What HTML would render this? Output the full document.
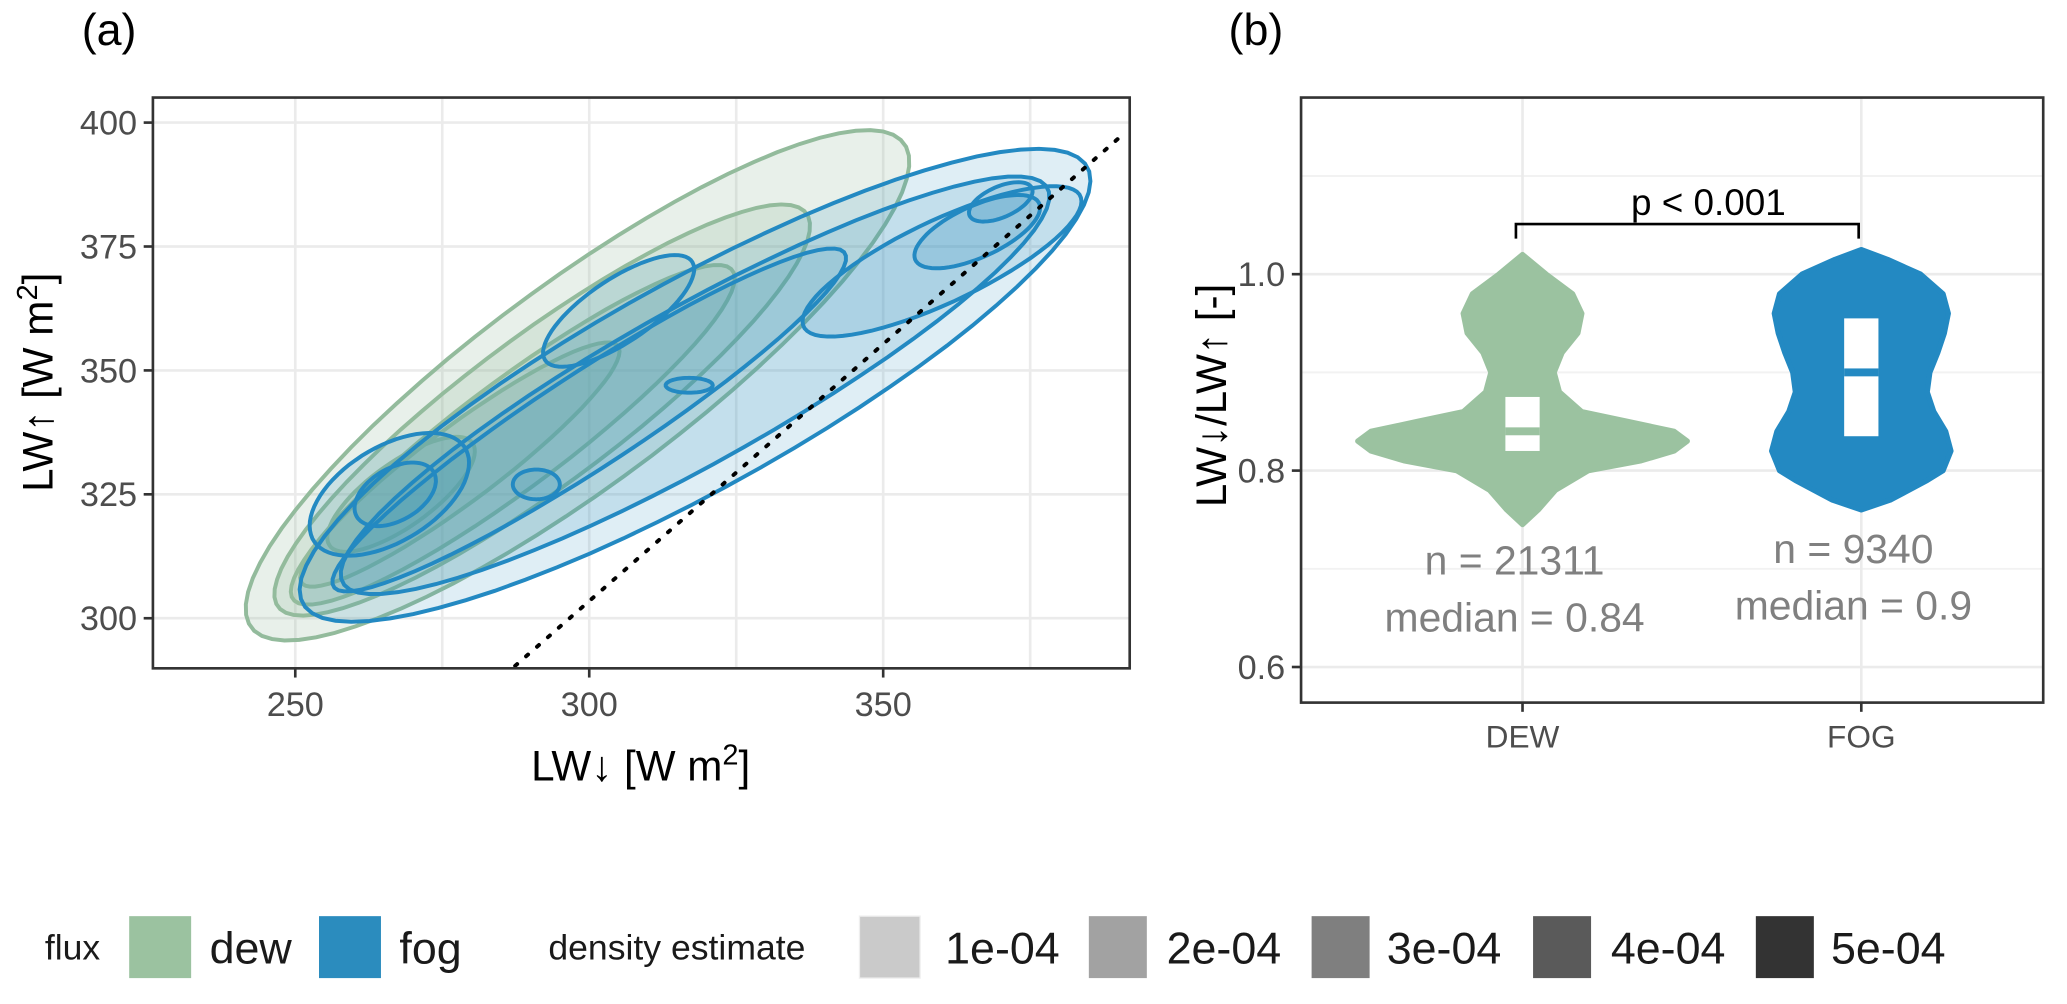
<!DOCTYPE html>
<html><head><meta charset="utf-8"><style>
body{margin:0;background:#fff;}
svg text{font-family:"Liberation Sans",sans-serif;}
</style></head><body>
<svg id="fig" width="2067" height="999" xmlns="http://www.w3.org/2000/svg">
<g transform="scale(1.3182)">
<text x="62" y="34" font-size="34" fill="#000">(a)</text>
<text x="932" y="34" font-size="34" fill="#000">(b)</text>
<g id="pa"></g>
<g id="pb"></g>
<g id="leg">
<text x="34" y="728" font-size="27" fill="#1a1a1a">flux</text>
<rect x="98" y="695" width="47" height="47" fill="#9bc2a0"/>
<text x="159" y="731" font-size="34" fill="#1a1a1a">dew</text>
<rect x="242" y="695" width="47" height="47" fill="#2b8cbe"/>
<text x="303" y="731" font-size="34" fill="#1a1a1a">fog</text>
<text x="416" y="728" font-size="27" fill="#1a1a1a">density estimate</text>
<rect x="652" y="695" width="46" height="47" fill="#cacaca" stroke="#eee"/><text x="717" y="731" font-size="34" fill="#1a1a1a">1e-04</text>
<rect x="826" y="695" width="44" height="47" fill="#a2a2a2"/><text x="885" y="731" font-size="34" fill="#1a1a1a">2e-04</text>
<rect x="995" y="695" width="44" height="47" fill="#7f7f7f"/><text x="1052" y="731" font-size="34" fill="#1a1a1a">3e-04</text>
<rect x="1163" y="695" width="44" height="47" fill="#5a5a5a"/><text x="1222" y="731" font-size="34" fill="#1a1a1a">4e-04</text>
<rect x="1332" y="695" width="44" height="47" fill="#333"/><text x="1389" y="731" font-size="34" fill="#1a1a1a">5e-04</text>
</g>
</g>
</svg>
<script>
// Panel (a) data: contour levels as ellipses [cx, cy, halfLength, halfWidth, angleDeg]
const dewLevels=[[298,347,74,19,42],[292,342,60,14,42],[287,337,50,10,42],[278,331,36,7,42],[268,325,16,6,42]];
const fogLevels=[[318,347,80,20,34],[318,347,72,15,34],[300,340,55,9,38],[360,372,27,8,30],[266,325,16,9,40],[305,362,16,6,40],[366,378,12,5,30],[267,325,8,5,40],[370,384,6,3,30],[291,327,4,3,0],[317,347,4,1.5,0]];
const xTicksA=[250,300,350];
const yTicksA=[300,325,350,375,400];
const refLine=[[287.4,290.4],[390,396.8]];
// Panel (b) data
const vY=[0.745,0.76,0.78,0.80,0.81,0.82,0.83,0.84,0.85,0.86,0.88,0.90,0.92,0.94,0.96,0.98,1.00,1.02];
const dewW=[0,12,25,50,90,115,125,115,80,45,28,24,30,42,45,38,18,0];
const fogY=[0.76,0.77,0.79,0.80,0.82,0.84,0.86,0.88,0.90,0.92,0.94,0.96,0.98,1.00,1.015,1.025];
const fogW=[0,22,50,62,68,64,55,50,52,58,63,66,62,45,20,0];
const cats=["DEW","FOG"];
const boxes=[[0.82,0.84,0.875],[0.835,0.90,0.955]];
const nLabels=["n = 21311","n = 9340"];
const medLabels=["median = 0.84","median = 0.9"];
const yTicksB=[0.6,0.8,1.0];
const NS="http://www.w3.org/2000/svg";
function mk(p,t,a){const e=document.createElementNS(NS,t);for(const k in a)e.setAttribute(k,a[k]);p.appendChild(e);return e;}
// Panel a
const pa=document.getElementById('pa');
const L=116,R=857,T=74,B=507;
const sx=v=>224+(v-250)*223/50, sy=v=>469-(v-300)*94/25;
for(const v of [275,300,325,350,375,250]){mk(pa,'line',{x1:sx(v),x2:sx(v),y1:T,y2:B,stroke:'#ebebeb','stroke-width':2});}
for(const v of yTicksA){mk(pa,'line',{x1:L,x2:R,y1:sy(v),y2:sy(v),stroke:'#ebebeb','stroke-width':2});}
function ell(c){const th=c[4]*Math.PI/180,ux=Math.cos(th),uy=Math.sin(th);let d='';for(let i=0;i<=72;i++){const t=i/72*2*Math.PI;const a=c[2]*Math.cos(t),b=c[3]*Math.sin(t);const x=c[0]+a*ux-b*uy,y=c[1]+a*uy+b*ux;d+=(i?'L':'M')+sx(x).toFixed(1)+','+sy(y).toFixed(1);}return d+'Z';}
const clip=mk(pa,'clipPath',{id:'cpa'});mk(clip,'rect',{x:L,y:T,width:R-L,height:B-T});
const cg=mk(pa,'g',{'clip-path':'url(#cpa)'});
for(const c of dewLevels){const e=mk(cg,'path',{d:ell(c),fill:'rgba(140,180,150,0.2)',stroke:'#93bb9c','stroke-width':3});

}
for(const c of fogLevels){const e=mk(cg,'path',{d:ell(c),fill:'rgba(43,140,190,0.15)',stroke:'#2389c2','stroke-width':3});

}
const rl=mk(cg,'line',{x1:sx(refLine[0][0]),y1:sy(refLine[0][1]),x2:sx(refLine[1][0]),y2:sy(refLine[1][1]),stroke:'#000','stroke-width':3,'stroke-dasharray':'2 9','stroke-linecap':'round'});


mk(pa,'rect',{x:L,y:T,width:R-L,height:B-T,fill:'none',stroke:'#333','stroke-width':2});
for(const v of xTicksA){mk(pa,'line',{x1:sx(v),x2:sx(v),y1:B,y2:B+7,stroke:'#333','stroke-width':2});const t=mk(pa,'text',{x:sx(v),y:B+36,'font-size':26,fill:'#4d4d4d','text-anchor':'middle'});t.textContent=v;}
for(const v of yTicksA){mk(pa,'line',{x1:L-7,x2:L,y1:sy(v),y2:sy(v),stroke:'#333','stroke-width':2});const t=mk(pa,'text',{x:L-12,y:sy(v)+9,'font-size':26,fill:'#4d4d4d','text-anchor':'end'});t.textContent=v;}
let xl=mk(pa,'text',{x:486,y:592,'font-size':32,fill:'#000','text-anchor':'middle'});xl.innerHTML='LW↓ [W m<tspan dy="-12" font-size="22">2</tspan><tspan dy="12">]</tspan>';

let yl=mk(pa,'text',{x:0,y:0,'font-size':32,fill:'#000','text-anchor':'middle',transform:'translate(40,290) rotate(-90)'});yl.innerHTML='LW↑ [W m<tspan dy="-12" font-size="22">2</tspan><tspan dy="12">]</tspan>';

// Panel b
const pb=document.getElementById('pb');
const L2=987,R2=1550,T2=74,B2=533;
const by=v=>357-(v-0.8)*149/0.2;
const cx=[1155,1412];
for(const v of [0.7,0.9,1.1]){mk(pb,'line',{x1:L2,x2:R2,y1:by(v),y2:by(v),stroke:'#f2f2f2','stroke-width':1.5});}
for(const v of yTicksB){mk(pb,'line',{x1:L2,x2:R2,y1:by(v),y2:by(v),stroke:'#ebebeb','stroke-width':2});}
for(const x of cx){mk(pb,'line',{x1:x,x2:x,y1:T2,y2:B2,stroke:'#ebebeb','stroke-width':2});}
function violin(ys,ws,c,col,name){let d='';ys.forEach((y,i)=>{d+=(i?'L':'M')+(c+ws[i])+','+by(y);});for(let i=ys.length-1;i>=0;i--)d+='L'+(c-ws[i])+','+by(ys[i]);const e=mk(pb,'path',{d:d+'Z',fill:col,stroke:col,'stroke-width':4,'stroke-linejoin':'round'});

}
violin(vY,dewW,cx[0],'#9bc2a0','violin-dew');
violin(fogY,fogW,cx[1],'#2389c2','violin-fog');
boxes.forEach((b,i)=>{const col=i?'#2389c2':'#9bc2a0';const r=mk(pb,'rect',{x:cx[i]-13,y:by(b[2]),width:26,height:by(b[0])-by(b[2]),fill:'#fff'});


mk(pb,'rect',{x:cx[i]-13,y:by(b[1])-3,width:26,height:6,fill:col});});
mk(pb,'rect',{x:L2,y:T2,width:R2-L2,height:B2-T2,fill:'none',stroke:'#333','stroke-width':2});
cats.forEach((c,i)=>{mk(pb,'line',{x1:cx[i],x2:cx[i],y1:B2,y2:B2+7,stroke:'#333','stroke-width':2});const t=mk(pb,'text',{x:cx[i],y:B2+34,'font-size':24,fill:'#4d4d4d','text-anchor':'middle'});t.textContent=c;
const n=mk(pb,'text',{x:cx[i]-6,y:i?427:436,'font-size':31,fill:'#808080','text-anchor':'middle'});n.textContent=nLabels[i];
const m=mk(pb,'text',{x:cx[i]-6,y:i?470:479,'font-size':31,fill:'#808080','text-anchor':'middle'});m.textContent=medLabels[i];});
for(const v of yTicksB){mk(pb,'line',{x1:L2-7,x2:L2,y1:by(v),y2:by(v),stroke:'#333','stroke-width':2});const t=mk(pb,'text',{x:L2-12,y:by(v)+9,'font-size':26,fill:'#4d4d4d','text-anchor':'end'});t.textContent=v.toFixed(1);}
mk(pb,'path',{d:`M${cx[0]-5},181 V170 H${cx[1]-2} V181`,fill:'none',stroke:'#000','stroke-width':2});
let pt=mk(pb,'text',{x:1296,y:163,'font-size':28,fill:'#000','text-anchor':'middle'});pt.textContent='p  < 0.001';

let yl2=mk(pb,'text',{x:0,y:0,'font-size':32,fill:'#000','text-anchor':'middle',transform:'translate(930,300) rotate(-90)'});yl2.textContent='LW↓/LW↑ [-]';

</script>
</body></html>
